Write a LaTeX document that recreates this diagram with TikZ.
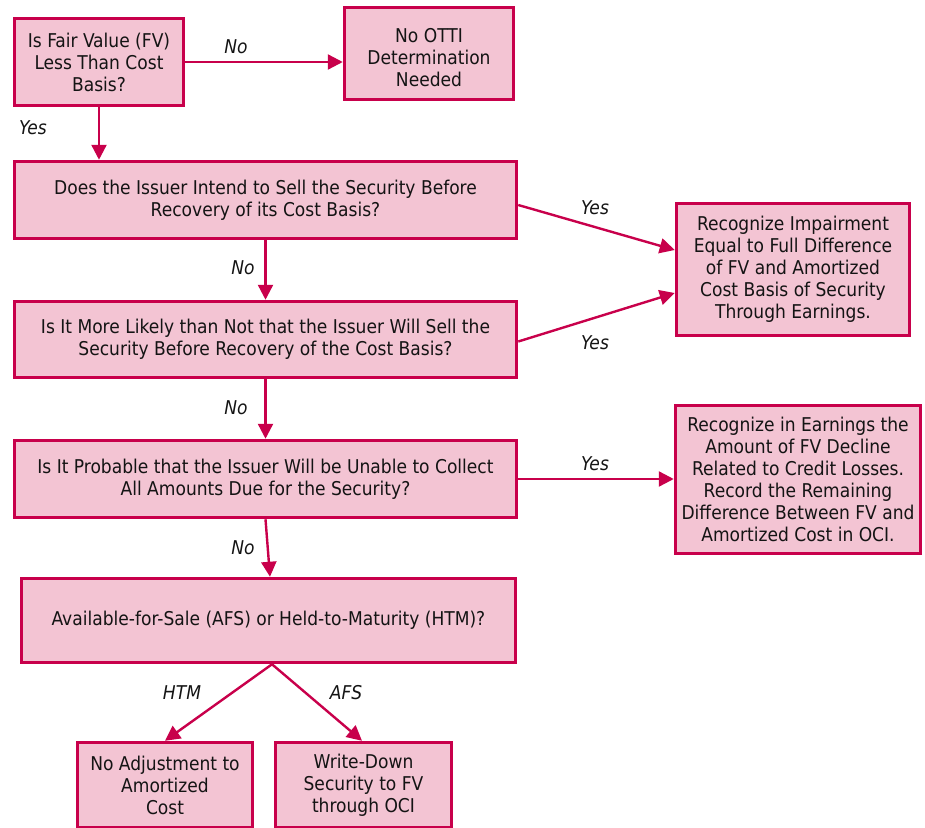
\documentclass[tikz,border=0pt]{standalone}
\usepackage{fontspec}
\setmainfont{DejaVu Sans Condensed}
\usetikzlibrary{arrows.meta}
\definecolor{crim}{HTML}{C8004B}
\definecolor{pinkfill}{HTML}{F3C4D3}
\definecolor{txt}{HTML}{141414}
\tikzset{
  box/.style={draw=crim, line width=3.5pt, fill=pinkfill, text=txt, align=center,
    inner sep=0pt, font=\fontsize{19}{22}\selectfont},
  boxtext/.style={text=txt, align=center, inner sep=0pt, font=\fontsize{19}{22}\selectfont},
  conn/.style={draw=crim, line width=2.4pt, -{Triangle[length=15pt,width=15pt]}},
  lab/.style={font=\fontsize{19}{20}\selectfont\itshape, text=txt, inner sep=0pt}
}
\begin{document}
\begin{tikzpicture}[x=1pt,y=-1pt]
\useasboundingbox (0,0) rectangle (925,827);
\node[box, minimum width=169pt, minimum height=87pt] (A) at (99,62) {Is Fair Value (FV)\\Less Than Cost\\Basis?};
\node[box, minimum width=169pt, minimum height=92pt] (B) at (429,53.5) {};
\node[boxtext] (Bt) at ([yshift=-4pt]B.center) {No OTTI\\Determination\\Needed};
\node[box, minimum width=502pt, minimum height=77pt] (C) at (265.5,200) {Does the Issuer Intend to Sell the Security Before\\Recovery of its Cost Basis?};
\node[box, minimum width=233pt, minimum height=132pt] (D) at (793,269.5) {Recognize Impairment\\Equal to Full Difference\\of FV and Amortized\\Cost Basis of Security\\Through Earnings.};
\node[box, minimum width=502pt, minimum height=76pt] (E) at (265.5,339.5) {Is It More Likely than Not that the Issuer Will Sell the\\Security Before Recovery of the Cost Basis?};
\node[box, minimum width=502pt, minimum height=77pt] (F) at (265.5,479) {Is It Probable that the Issuer Will be Unable to Collect\\All Amounts Due for the Security?};
\node[box, minimum width=245pt, minimum height=148pt] (G) at (798,479.5) {Recognize in Earnings the\\Amount of FV Decline\\Related to Credit Losses.\\Record the Remaining\\Difference Between FV and\\Amortized Cost in OCI.};
\node[box, minimum width=494pt, minimum height=84pt] (H) at (268.5,620.5) {Available-for-Sale (AFS) or Held-to-Maturity (HTM)?};
\node[box, minimum width=175pt, minimum height=85pt] (I) at (165,785) {No Adjustment to\\Amortized\\Cost};
\node[box, minimum width=176pt, minimum height=85pt] (J) at (363.5,785) {Write-Down\\Security to FV\\through OCI};

\draw[conn] (A.east) -- (A.east -| B.west);
\draw[conn] (A.south) -- (A.south |- C.north);
\draw[conn] ([yshift=-5pt]C.east) -- ([yshift=19.5pt]D.west);
\draw[conn] (C.south) -- (C.south |- E.north);
\draw[conn] ([yshift=-2pt]E.east) -- ([yshift=-23.5pt]D.west);
\draw[conn] (E.south) -- (E.south |- F.north);
\draw[conn] (F.east) -- (F.east -| G.west);
\draw[conn] (F.south) -- ([xshift=1.5pt]H.north);
\coordinate (hb) at ([xshift=3.5pt]H.south);
\draw[conn] (hb) -- (I.north);
\draw[conn] (hb) -- ([xshift=-1.5pt]J.north);

\node[lab] (l1) at (236,47) {No};
\node[lab] (l2) at (33,128) {Yes};
\node[lab] (l3) at (595,208) {Yes};
\node[lab] (l4) at (243,268) {No};
\node[lab] (l5) at (595,343) {Yes};
\node[lab] (l6) at (236,408) {No};
\node[lab] (l7) at (595,464) {Yes};
\node[lab] (l8) at (243,548) {No};
\node[lab] (l9) at (182,693) {HTM};
\node[lab] (l10) at (346,693) {AFS};
\end{tikzpicture}
\end{document}
